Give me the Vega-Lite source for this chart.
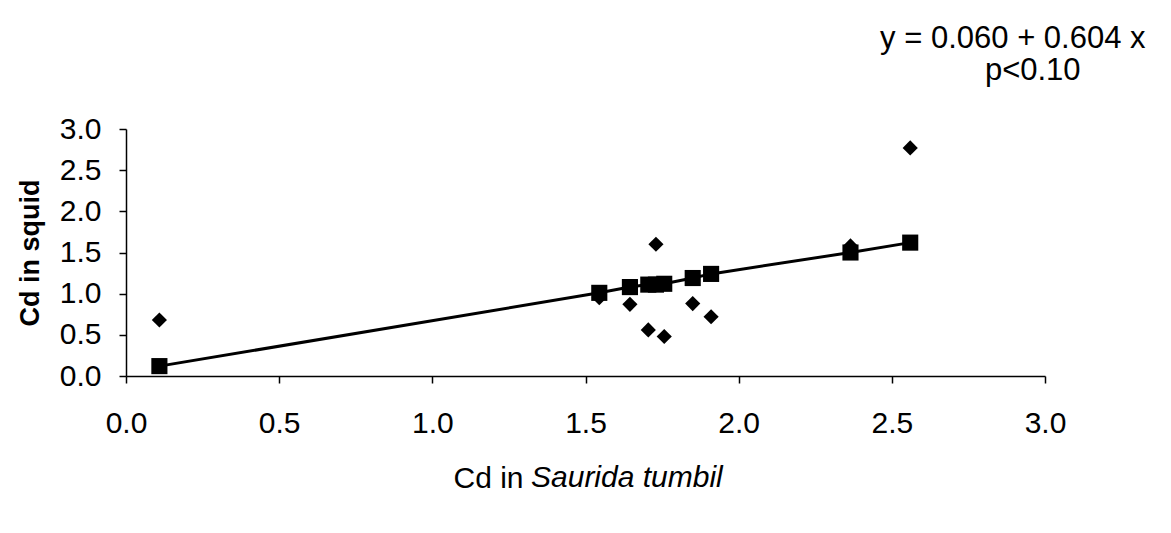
{
  "$schema": "https://vega.github.io/schema/vega-lite/v6.json",
  "autosize": "none",
  "width": 919,
  "height": 247,
  "padding": {"left": 126, "top": 129, "right": 126, "bottom": 157},
  "background": "white",
  "config": {
    "view": {"stroke": null},
    "font": "Liberation Sans",
    "title": {"font": "Liberation Sans", "fontSize": 30, "fontWeight": "normal", "fontStyle": "italic", "color": "black"}
  },
  "title": {"text": "Saurida tumbil", "orient": "bottom", "anchor": "start", "frame": "group", "align": "left", "dx": 405, "offset": -30, "baseline": "top"},
  "datasets": {
    "pts": [
      {"x": 0.109, "obs": 0.68, "pred": 0.12},
      {"x": 1.545, "obs": 0.95, "pred": 1.01},
      {"x": 1.645, "obs": 0.87, "pred": 1.08},
      {"x": 1.705, "obs": 0.56, "pred": 1.11},
      {"x": 1.73, "obs": 1.60, "pred": 1.11},
      {"x": 1.757, "obs": 0.48, "pred": 1.12},
      {"x": 1.85, "obs": 0.88, "pred": 1.19},
      {"x": 1.91, "obs": 0.72, "pred": 1.24},
      {"x": 2.365, "obs": 1.58, "pred": 1.50},
      {"x": 2.56, "obs": 2.77, "pred": 1.62}
    ],
    "notes": [
      {"label": "y = 0.060 + 0.604 x", "x": 2.895, "y": 3.984},
      {"label": "p<0.10", "x": 2.96, "y": 3.595}
    ]
  },
  "layer": [
    {
      "data": {"name": "pts"},
      "mark": {"type": "point", "shape": "diamond", "filled": true, "color": "black", "opacity": 1, "size": 230},
      "encoding": {
        "x": {"field": "x", "type": "quantitative",
          "scale": {"domain": [0, 3], "nice": false, "zero": false},
          "axis": {"values": [0, 0.5, 1, 1.5, 2, 2.5, 3], "format": ".1f", "grid": false, "labelFlush": false,
            "domainColor": "black", "domainWidth": 1.5, "tickColor": "black", "tickWidth": 1.5, "tickSize": 7,
            "labelFont": "Liberation Sans", "labelFontSize": 30, "labelColor": "black", "labelPadding": 25,
            "title": "Cd in", "titleFont": "Liberation Sans", "titleFontSize": 30, "titleFontWeight": "normal", "titleColor": "black",
            "titleAlign": "left", "titleX": 327, "titlePadding": 25, "titleBaseline": "top"}},
        "y": {"field": "obs", "type": "quantitative",
          "scale": {"domain": [0, 3], "nice": false, "zero": false},
          "axis": {"values": [0, 0.5, 1, 1.5, 2, 2.5, 3], "format": ".1f", "grid": false, "labelFlush": false,
            "domainColor": "black", "domainWidth": 1.5, "tickColor": "black", "tickWidth": 1.5, "tickSize": 7,
            "labelFont": "Liberation Sans", "labelFontSize": 30, "labelColor": "black", "labelPadding": 18,
            "title": "Cd in squid", "titleFont": "Liberation Sans", "titleFontSize": 27, "titleFontWeight": "bold", "titleColor": "black",
            "titlePadding": 15}}
      }
    },
    {
      "data": {"name": "pts"},
      "mark": {"type": "line", "color": "black", "strokeWidth": 3},
      "encoding": {
        "x": {"field": "x", "type": "quantitative"},
        "y": {"field": "pred", "type": "quantitative"}
      }
    },
    {
      "data": {"name": "pts"},
      "mark": {"type": "point", "shape": "square", "filled": true, "color": "black", "opacity": 1, "size": 260},
      "encoding": {
        "x": {"field": "x", "type": "quantitative"},
        "y": {"field": "pred", "type": "quantitative"}
      }
    },
    {
      "data": {"name": "notes"},
      "mark": {"type": "text", "font": "Liberation Sans", "fontSize": 31, "color": "black", "align": "center", "baseline": "alphabetic"},
      "encoding": {
        "x": {"field": "x", "type": "quantitative"},
        "y": {"field": "y", "type": "quantitative"},
        "text": {"field": "label"}
      }
    }
  ]
}
